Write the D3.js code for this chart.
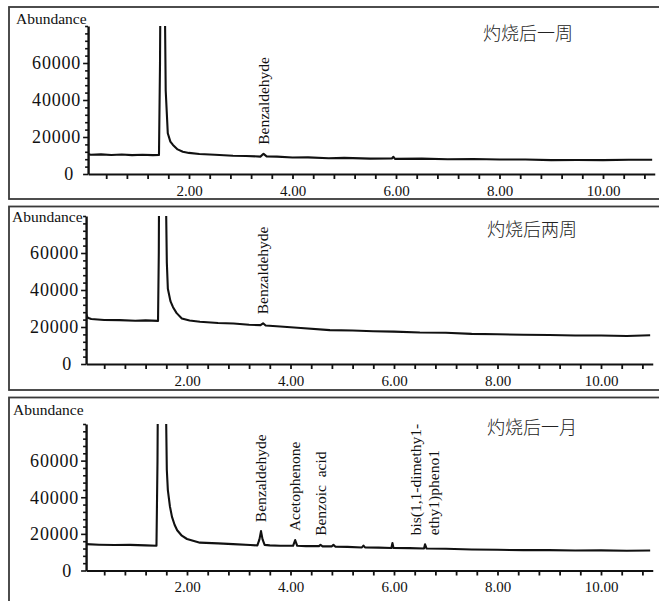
<!DOCTYPE html>
<html>
<head>
<meta charset="utf-8">
<script src="https://cdn.jsdelivr.net/npm/d3@7"></script>
<style>
  html, body { margin: 0; padding: 0; background: #fff; }
  svg { display: block; }
  .serif { font-family: 'Liberation Serif', 'Times New Roman', 'DejaVu Serif', serif; }
  .cjk { font-family: 'Noto Sans CJK SC', sans-serif; font-weight: 300; }
</style>
</head>
<body>
<div id="chart"></div>
<script>
// Total ion chromatograms, three sampling times after burning
// [retention time (min), abundance]
const week1Trace = [
  [0.05, 10800], [0.1, 10400], [0.3, 10600], [0.5, 10300], [0.7, 10500], [0.9, 10200],
  [1.1, 10400], [1.3, 10200], [1.42, 10300], [1.44, 60000], [1.46, 160000],
  [1.51, 160000], [1.55, 45000], [1.59, 22000], [1.64, 17500], [1.69, 15700],
  [1.78, 13300], [1.88, 12050], [2.0, 11400], [2.2, 10800], [2.5, 10400],
  [2.85, 9900], [3.1, 9750], [3.38, 9400], [3.44, 10900], [3.5, 9500], [3.7, 9400],
  [4.0, 8900], [4.3, 9000], [4.7, 8500], [5.0, 8700], [5.5, 8300], [5.92, 8400],
  [5.95, 9300], [5.98, 8200], [6.5, 8300], [7.0, 8000], [7.5, 8100], [8.0, 7800],
  [8.5, 7800], [9.0, 7500], [9.5, 7600], [10.0, 7500], [10.5, 7700], [10.95, 7700]
];

const week2Trace = [
  [0.05, 27000], [0.08, 25000], [0.15, 24300], [0.4, 23800], [0.7, 23700], [1.0, 23400],
  [1.2, 23600], [1.44, 23300], [1.455, 60000], [1.47, 160000], [1.56, 160000],
  [1.61, 55000], [1.63, 40700], [1.68, 34000], [1.73, 30700], [1.8, 27500],
  [1.9, 24600], [2.05, 23500], [2.25, 22800], [2.6, 22200], [2.9, 21900], [3.2, 21200],
  [3.42, 21000], [3.47, 22000], [3.52, 20800], [3.8, 20300], [4.2, 19500], [4.76, 18300],
  [5.2, 18100], [5.6, 17700], [6.0, 17500], [6.5, 17000], [7.0, 16900], [7.5, 16300],
  [8.0, 16100], [8.5, 15800], [9.0, 15700], [9.5, 15400], [10.0, 15400], [10.5, 15100],
  [10.95, 15500]
];

const month1Trace = [
  [0.05, 14400], [0.3, 14100], [0.6, 13900], [0.9, 14000], [1.2, 13700], [1.41, 13500],
  [1.43, 60000], [1.45, 160000], [1.56, 160000], [1.61, 55000], [1.63, 43900],
  [1.67, 35000], [1.71, 29300], [1.76, 25000], [1.81, 22000], [1.9, 19000],
  [2.0, 17200], [2.25, 15200], [2.6, 14800], [2.89, 14400], [3.22, 13900], [3.36, 13700],
  [3.40, 17000], [3.43, 21500], [3.46, 17000], [3.5, 14000], [3.6, 13700], [3.8, 13500],
  [4.05, 13500], [4.09, 16600], [4.13, 13500], [4.3, 13300], [4.55, 13300], [4.58, 14000],
  [4.62, 13200], [4.8, 13200], [4.83, 14000], [4.87, 13000], [5.1, 12900], [5.38, 12600],
  [5.41, 13600], [5.44, 12600], [5.7, 12500], [5.95, 12300], [5.97, 15000], [5.99, 12300],
  [6.3, 12200], [6.58, 12000], [6.6, 14300], [6.63, 12000], [7.0, 11900], [7.5, 11500],
  [8.0, 11300], [8.5, 11100], [9.0, 11100], [9.5, 10900], [10.0, 11000], [10.5, 10800],
  [10.95, 10900]
];

const titles = ['灼烧后一周', '灼烧后两周', '灼烧后一月'];

// compound annotations: retention time of the peak, text lines
const week1Labels = [{ t: 3.44, lines: ['Benzaldehyde'] }];
const week2Labels = [{ t: 3.47, lines: ['Benzaldehyde'] }];
const month1Labels = [
  { t: 3.43, lines: ['Benzaldehyde'] },
  { t: 4.09, lines: ['Acetophenone'] },
  { t: 4.58, lines: ['Benzoic\u00a0\u00a0acid'] },
  { t: 6.6, lines: ['bis(1,1-dimethy1-', 'ethy1)pheno1'] }
];

const xTicks = d3.range(1, 28).map(i => +(i * 0.4).toFixed(1));
const xLabelTicks = [2, 4, 6, 8, 10];
const yTicks = d3.range(0, 80001, 4000);
const yLabelTicks = [0, 20000, 40000, 60000];

const W = 659, H = 601;

const svg = d3.select('#chart').append('svg')
  .attr('width', W).attr('height', H)
  .attr('viewBox', `0 0 ${W} ${H}`);

const panels = [
  { trace: week1Trace, labels: week1Labels, title: titles[0],
    boxY: 7, boxH: 192, x0: 85.5, yBot: 174, yTop: 26, absX: 16, absY: 24, titleX: 483, titleY: 40 },
  { trace: week2Trace, labels: week2Labels, title: titles[1],
    boxY: 206.5, boxH: 183.5, x0: 83.5, yBot: 364, yTop: 216, absX: 12, absY: 222, titleX: 487, titleY: 236 },
  { trace: month1Trace, labels: month1Labels, title: titles[2],
    boxY: 397.5, boxH: 260, x0: 83.5, yBot: 570.5, yTop: 424, absX: 13, absY: 415, titleX: 487, titleY: 434 }
];

const pxPerMin = 51.75;

panels.forEach((p, pi) => {
  const g = svg.append('g');

  // frame
  g.append('rect')
    .attr('x', 9).attr('y', p.boxY)
    .attr('width', 720).attr('height', p.boxH)
    .attr('fill', 'none')
    .attr('stroke', '#3a3a3a')
    .attr('stroke-width', 1.8);

  const x = d3.scaleLinear()
    .domain([0.05, 11])
    .range([p.x0 + 0.05 * pxPerMin, p.x0 + 11 * pxPerMin]);
  const y = d3.scaleLinear().domain([0, 80000]).range([p.yBot, p.yTop]);

  // clip the trace to the plot area (solvent peak runs off the top)
  const clipId = `clip-${pi}`;
  svg.append('clipPath').attr('id', clipId)
    .append('rect')
    .attr('x', x(0.05)).attr('y', y(80000))
    .attr('width', x(11) - x(0.05)).attr('height', y(0) - y(80000));

  const line = d3.line()
    .x(d => x(d[0]))
    .y(d => y(d[1]))
    .curve(d3.curveLinear);

  g.append('path')
    .datum(p.trace)
    .attr('d', line)
    .attr('clip-path', `url(#${clipId})`)
    .attr('fill', 'none')
    .attr('stroke', '#111')
    .attr('stroke-width', 2.1)
    .attr('stroke-linejoin', 'round');

  // x axis
  const xAxis = g.append('g')
    .attr('transform', `translate(0,${p.yBot})`)
    .call(d3.axisBottom(x)
      .tickValues(xTicks)
      .tickSizeInner(5).tickSizeOuter(0)
      .tickPadding(6)
      .tickFormat(d => xLabelTicks.includes(d) ? d.toFixed(2) : ''));
  xAxis.attr('font-family', null);
  xAxis.select('.domain').attr('stroke', '#111').attr('stroke-width', 2.2);
  xAxis.selectAll('.tick line').attr('stroke', '#111').attr('stroke-width', 1.8);
  xAxis.selectAll('text')
    .attr('class', 'serif')
    .attr('fill', '#111')
    .attr('font-size', '15px');

  // y axis
  const yAxis = g.append('g')
    .attr('transform', `translate(${x(0.05)},0)`)
    .call(d3.axisLeft(y)
      .tickValues(yTicks)
      .tickSizeInner(3).tickSizeOuter(0)
      .tickPadding(4)
      .tickFormat(d => yLabelTicks.includes(d) ? String(d) : ''));
  yAxis.attr('font-family', null);
  yAxis.select('.domain').attr('stroke', '#111').attr('stroke-width', 2.4);
  yAxis.selectAll('.tick line')
    .attr('x2', d => yLabelTicks.includes(d) ? -5 : -3)
    .attr('stroke', '#111').attr('stroke-width', 1.6);
  yAxis.selectAll('text')
    .attr('class', 'serif')
    .attr('fill', '#111')
    .attr('font-size', '18px')
    .attr('letter-spacing', '0.8px')
    .attr('dx', d => d === 0 ? -7 : 0);

  // "Abundance"
  g.append('text')
    .attr('class', 'serif')
    .attr('x', p.absX).attr('y', p.absY)
    .attr('fill', '#111')
    .attr('font-size', '15.5px')
    .text('Abundance');

  // sample title
  g.append('text')
    .attr('class', 'cjk')
    .attr('x', p.titleX).attr('y', p.titleY)
    .attr('fill', '#222')
    .attr('font-size', '18px')
    .text(p.title);

  // compound labels, rotated, sitting just above their peak
  p.labels.forEach(lab => {
    const near = p.trace.filter(d => Math.abs(d[0] - lab.t) < 0.04);
    const top = d3.max(near, d => d[1]);
    const baseY = y(top) - 9;
    const n = lab.lines.length;
    lab.lines.forEach((txt, i) => {
      const bx = x(lab.t) + 5 + (i - (n - 1) / 2) * 18;
      g.append('text')
        .attr('class', 'serif')
        .attr('transform', `translate(${bx},${baseY}) rotate(-90)`)
        .attr('fill', '#111')
        .attr('font-size', '15.5px')
        .text(txt);
    });
  });
});
</script>
</body>
</html>
